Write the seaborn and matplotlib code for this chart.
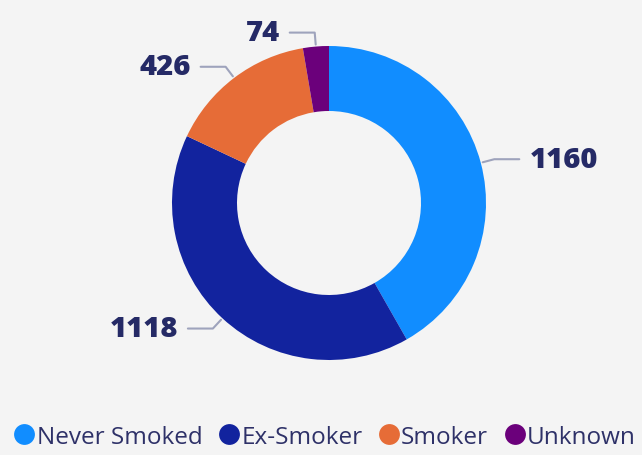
import numpy as np
import matplotlib
matplotlib.use("Agg")
import matplotlib.pyplot as plt
from matplotlib.lines import Line2D
import seaborn as sns

# data
categories = ["Never Smoked", "Ex-Smoker", "Smoker", "Unknown"]
counts = [1160, 1118, 426, 74]
colors = ["#118DFF", "#12239E", "#E66C37", "#6B007B"]

BG = "#F4F4F4"
TEXT = "#252A66"
LEADER = "#9EA3BC"

sns.set_theme(style="white")
plt.rcParams["font.family"] = ["Open Sans", "DejaVu Sans"]

W, H = 642, 456
fig = plt.figure(figsize=(W / 100, H / 100), dpi=100, facecolor=BG)
ax = fig.add_axes([0, 0, 1, 1])
ax.set_facecolor(BG)

cx, cy = 329, H - 204
R = 157
ring = 65

wedges, _ = ax.pie(
    counts, colors=colors, startangle=90, counterclock=False,
    radius=R, center=(cx, cy), frame=True,
    wedgeprops=dict(width=ring, linewidth=0),
)
ax.set_xlim(0, W)
ax.set_ylim(0, H)
ax.set_aspect("equal")
ax.axis("off")

# data labels with elbow leader lines
total = sum(counts)
cum = np.cumsum([0] + counts[:-1])
for val, start in zip(counts, cum):
    frac = (start + val / 2) / total
    a = 2 * np.pi * frac
    dx, dy = np.sin(a), np.cos(a)
    p0 = (cx + (R + 2) * dx, cy + (R + 2) * dy)
    p1 = (cx + (R + 14) * dx, cy + (R + 14) * dy)
    side = 1 if dx >= 0 else -1
    p2 = (p1[0] + side * 25, p1[1])
    ax.plot([p0[0], p1[0], p2[0]], [p0[1], p1[1], p2[1]],
            color=LEADER, lw=1.5, solid_capstyle="round")
    ax.text(p2[0] + side * 10, p2[1], f"{val}", color=TEXT,
            fontsize=21, fontweight="heavy",
            ha="left" if side > 0 else "right", va="center")

handles = [Line2D([0], [0], marker="o", linestyle="", markersize=15,
                  markerfacecolor=c, markeredgewidth=0) for c in colors]
leg = ax.legend(handles, categories, loc="center", bbox_to_anchor=(0.503, 0.04),
                ncol=4, frameon=False, handletextpad=-0.1, columnspacing=0.5,
                fontsize=17.5, handlelength=1.2)
for t in leg.get_texts():
    t.set_color("#2E3168")

fig.savefig("out.png", dpi=100, facecolor=BG)
